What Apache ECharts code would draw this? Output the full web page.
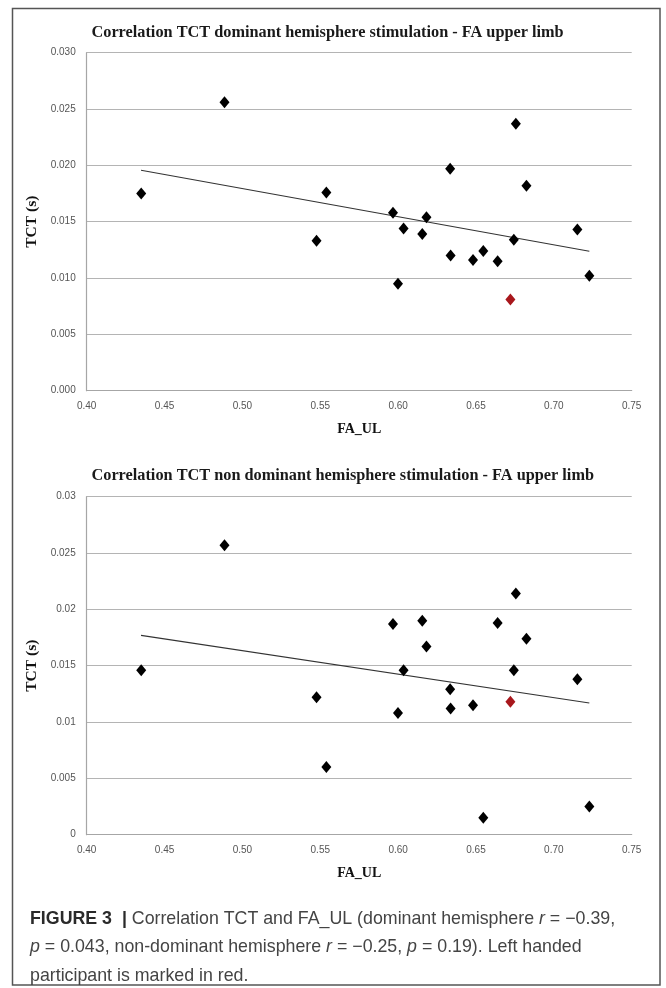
<!DOCTYPE html>
<html>
<head>
<meta charset="utf-8">
<script src="https://cdn.jsdelivr.net/npm/echarts@6/dist/echarts.min.js"></script>
<style>
html,body{margin:0;padding:0;background:#fff;}
#chart{width:666px;height:988px;}
</style>
</head>
<body>
<div id="chart"></div>
<script>
// ---- data ----
const faUL = [0.435, 0.4885, 0.5476, 0.5539, 0.5967, 0.5999, 0.6035, 0.6155, 0.6182, 0.6334,
              0.6337, 0.6481, 0.6547, 0.6639, 0.6743, 0.6756, 0.6824, 0.7151, 0.7228];
const tctDominant = [0.0175, 0.0256, 0.0133, 0.0176, 0.0158, 0.0095, 0.0144, 0.0139, 0.0154, 0.0197,
                     0.0120, 0.0116, 0.0124, 0.0115, 0.0134, 0.0237, 0.0182, 0.0143, 0.0102];
const tctNonDominant = [0.0146, 0.0257, 0.0122, 0.0060, 0.0187, 0.0108, 0.0146, 0.0190, 0.0167, 0.0129,
                        0.0112, 0.0115, 0.0015, 0.0188, 0.0146, 0.0214, 0.0174, 0.0138, 0.0025];
const faLeftHanded = [0.6721];
const tctDominantLeft = [0.0081];
const tctNonDominantLeft = [0.0118];
const trendX = [0.4349, 0.7228];
const trendDominant = [0.01956, 0.01238];
const trendNonDominant = [0.01769, 0.01169];
const xTickLabels = ['0.40', '0.45', '0.50', '0.55', '0.60', '0.65', '0.70', '0.75'];
const yTickLabelsTop = ['0.000', '0.005', '0.010', '0.015', '0.020', '0.025', '0.030'];
const yTickLabelsBottom = ['0', '0.005', '0.01', '0.015', '0.02', '0.025', '0.03'];
const titles = ['Correlation TCT dominant hemisphere stimulation - FA upper limb',
                'Correlation TCT non dominant hemisphere stimulation - FA upper limb'];

const pairs = (xs, ys) => xs.map((x, i) => [x, ys[i]]);

const chart = echarts.init(document.getElementById('chart'), null, {renderer: 'canvas'});

const gridTops = [52.7, 496.7];
const gridHeight = 338;
const serif = '"Liberation Serif", "Times New Roman", serif';
const sans = '"Liberation Sans", Arial, sans-serif';

function xAxis(i) {
  return {
    type: 'value', gridIndex: i, min: 0.40, max: 0.75, interval: 0.05,
    axisLine: {show: true, lineStyle: {color: '#a6a6a6', width: 1.2}},
    axisTick: {show: false},
    splitLine: {show: false},
    axisLabel: {
      color: '#555', fontFamily: sans, fontSize: 10, margin: 11,
      formatter: v => xTickLabels[Math.round((v - 0.40) / 0.05)]
    },
    name: 'FA_UL', nameLocation: 'middle', nameGap: 32,
    nameTextStyle: {fontFamily: serif, fontWeight: 'bold', fontSize: 14, color: '#111'}
  };
}
function yAxis(i, labels) {
  return {
    type: 'value', gridIndex: i, min: 0, max: 0.030, interval: 0.005,
    axisLine: {show: true, lineStyle: {color: '#a6a6a6', width: 1.2}},
    axisTick: {show: false},
    splitLine: {show: true, lineStyle: {color: '#b4b4b4', width: 1.2}},
    axisLabel: {
      color: '#555', fontFamily: sans, fontSize: 10, margin: 11,
      formatter: v => labels[Math.round(v / 0.005)]
    },
    name: 'TCT (s)', nameLocation: 'middle', nameGap: 35, nameRotate: 90,
    nameTextStyle: {fontFamily: serif, fontWeight: 'bold', fontSize: 15.5, color: '#111'}
  };
}
function series(i, ys, ysLeft, trend) {
  return [
    {type: 'line', xAxisIndex: i, yAxisIndex: i, data: pairs(trendX, trend), symbol: 'none',
     lineStyle: {color: '#333', width: 1.1}, silent: true, z: 2},
    {type: 'scatter', xAxisIndex: i, yAxisIndex: i, data: pairs(faUL, ys), symbol: 'diamond',
     symbolSize: [10, 12], itemStyle: {color: '#000', opacity: 1}, z: 3},
    {type: 'scatter', xAxisIndex: i, yAxisIndex: i, data: pairs(faLeftHanded, ysLeft), symbol: 'diamond',
     symbolSize: [10, 12], itemStyle: {color: '#a8171c', opacity: 1}, z: 3}
  ];
}

const option = {
  animation: false,
  backgroundColor: '#fff',
  grid: gridTops.map(t => ({left: 86.7, width: 545, top: t, height: gridHeight, containLabel: false})),
  xAxis: [xAxis(0), xAxis(1)],
  yAxis: [yAxis(0, yTickLabelsTop), yAxis(1, yTickLabelsBottom)],
  series: [].concat(
    series(0, tctDominant, tctDominantLeft, trendDominant),
    series(1, tctNonDominant, tctNonDominantLeft, trendNonDominant)
  ),
  graphic: [
    {type: 'rect', shape: {x: 12.5, y: 8.5, width: 647.5, height: 976.5},
     style: {fill: 'none', stroke: '#555', lineWidth: 1.5}, silent: true, z: 0},
    {type: 'text', x: 91.5, y: 33, style: {text: titles[0], font: 'bold 16.3px ' + serif,
     fill: '#1a1a1a', textAlign: 'left', textVerticalAlign: 'middle'}},
    {type: 'text', x: 91.5, y: 476, style: {text: titles[1], font: 'bold 16.3px ' + serif,
     fill: '#1a1a1a', textAlign: 'left', textVerticalAlign: 'middle'}},
    {type: 'text', left: 30, top: 910, style: {
      text: '{b|FIGURE 3 }{bar| | }{n|Correlation TCT and FA_UL (dominant hemisphere }{i|r}{n| = \u22120.39,}\n' +
            '{i|p}{n| = 0.043, non-dominant hemisphere }{i|r}{n| = \u22120.25, }{i|p}{n| = 0.19). Left handed}\n' +
            '{n|participant is marked in red.}',
      rich: {
        b: {fontFamily: sans, fontWeight: 'bold', fontSize: 17.8, fill: '#2a2a2a', lineHeight: 28.5},
        bar: {fontFamily: sans, fontWeight: 'bold', fontSize: 17.8, fill: '#2a2a2a', lineHeight: 28.5},
        n: {fontFamily: sans, fontSize: 17.8, fill: '#444', lineHeight: 28.5},
        i: {fontFamily: sans, fontStyle: 'italic', fontSize: 17.8, fill: '#444', lineHeight: 28.5}
      }
    }}
  ]
};
chart.setOption(option);
</script>
</body>
</html>
